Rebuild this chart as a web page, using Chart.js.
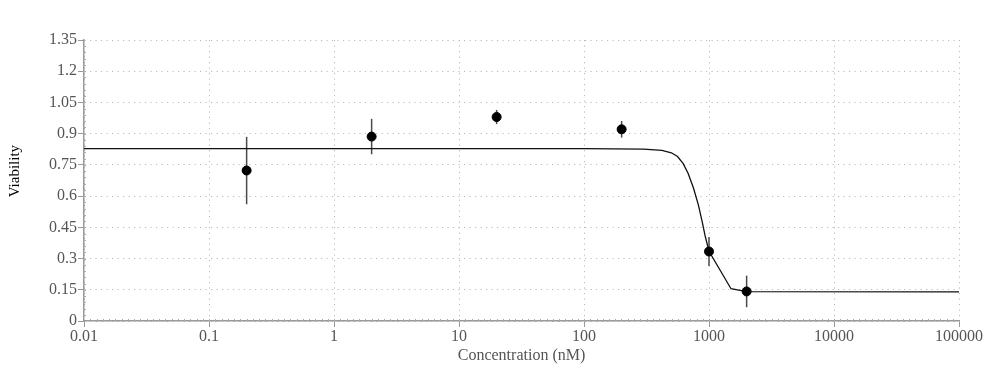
<!DOCTYPE html>
<html>
<head>
<meta charset="utf-8">
<script src="https://cdn.jsdelivr.net/npm/chart.js@4"></script>
<style>
  html, body { margin: 0; padding: 0; background: #fff; }
</style>
</head>
<body>
<canvas id="viability-chart" width="1004" height="370"></canvas>
<script>
// ------------- data -------------

var concentrations = [0.2, 2, 20, 200, 1000, 2000];
var viability = [0.723, 0.886, 0.980, 0.921, 0.334, 0.142];
var viabilityErr = [0.162, 0.085, 0.034, 0.040, 0.070, 0.076];

// fitted curve
var fitConc = [0.01, 1, 100, 300, 420, 500, 560, 620, 680, 750, 820, 880, 930, 1000, 1500, 2000, 100000];
var fitViability = [0.828, 0.828, 0.828, 0.826, 0.820, 0.808, 0.790, 0.757, 0.710, 0.640, 0.560, 0.480, 0.410, 0.335, 0.155, 0.141, 0.140];

var xTicks = [0.01, 0.1, 1, 10, 100, 1000, 10000, 100000];
var yTicks = [0, 0.15, 0.3, 0.45, 0.6, 0.75, 0.9, 1.05, 1.2, 1.35];

var serif = "'Liberation Serif', 'DejaVu Serif', serif";

// ------------- datasets -------------

var datasets = [];

datasets.push({
    type: "scatter",
    data: concentrations.map(function (c, i) { return { x: c, y: viability[i] }; }),
    backgroundColor: "#000",
    borderColor: "#000",
    pointRadius: 4.5,
    pointHoverRadius: 4.5,
    order: 0
});

datasets.push({
    type: "line",
    data: fitConc.map(function (c, i) { return { x: c, y: fitViability[i] }; }),
    borderColor: "#111",
    borderWidth: 1.3,
    pointRadius: 0,
    tension: 0,
    fill: false,
    order: 1
});

// error bars as two point lines
concentrations.forEach(function (c, i) {
    datasets.push({
        type: "line",
        data: [{ x: c, y: viability[i] - viabilityErr[i] }, { x: c, y: viability[i] + viabilityErr[i] }],
        borderColor: "#4a4a4a",
        borderWidth: 1.5,
        pointRadius: 0,
        fill: false,
        order: 2
    });
});

// small ruler marks along both axes
var minorTicks = {
    id: "minorTicks",
    beforeDatasetsDraw: function (chart) {
        var ctx = chart.ctx, xs = chart.scales.x, ys = chart.scales.y;
        ctx.save();
        ctx.strokeStyle = "#aaa";
        ctx.lineWidth = 1;
        ctx.beginPath();
        for (var k = 1; k < 140; k++) {
            var px = Math.round(xs.getPixelForValue(Math.pow(10, -2 + k * 0.05))) + 0.5;
            ctx.moveTo(px, ys.bottom - 2);
            ctx.lineTo(px, ys.bottom + 1);
        }
        for (var j = 1; j < 45; j++) {
            var py = Math.round(ys.getPixelForValue(j * 0.03)) + 0.5;
            ctx.moveTo(xs.left - 1, py);
            ctx.lineTo(xs.left + 2, py);
        }
        ctx.stroke();
        ctx.restore();
    }
};

var viabilityChart = new Chart("viability-chart", {
    data: { datasets: datasets },
    plugins: [minorTicks],
    options: {
        responsive: false,
        animation: false,
        events: [],
        layout: { padding: { top: 40, right: 45, left: 0, bottom: 0 } },
        plugins: { legend: { display: false }, tooltip: { enabled: false } },
        scales: {
            x: {
                type: "logarithmic",
                min: 0.01,
                max: 100000,
                afterBuildTicks: function (scale) {
                    scale.ticks = xTicks.map(function (v) { return { value: v }; });
                },
                afterFit: function (scale) { scale.height = 49; },
                ticks: {
                    autoSkip: false,
                    maxRotation: 0,
                    padding: 0,
                    color: "#555",
                    font: { family: serif, size: 16 },
                    callback: function (v) { return String(v); }
                },
                grid: { color: "#bbb", tickColor: "#999", tickLength: 6 },
                border: { color: "#999", width: 1.5, dash: [1.2, 4.3] },
                title: {
                    display: true,
                    text: "Concentration (nM)",
                    color: "#555",
                    font: { family: serif, size: 16 },
                    padding: { top: 0, bottom: 5 }
                }
            },
            y: {
                min: 0,
                max: 1.35,
                afterBuildTicks: function (scale) {
                    scale.ticks = yTicks.map(function (v) { return { value: v }; });
                },
                afterFit: function (scale) { scale.width = 84; },
                ticks: {
                    padding: 1,
                    color: "#555",
                    font: { family: serif, size: 16 },
                    callback: function (v) { return String(v); }
                },
                grid: { color: "#bbb", tickColor: "#999", tickLength: 6 },
                border: { color: "#999", width: 1.5, dash: [1.2, 4.3] },
                title: {
                    display: true,
                    text: "     Viability",
                    color: "#000",
                    font: { family: serif, size: 15 },
                    padding: { top: 6, bottom: 0 }
                }
            }
        }
    }
});
</script>
</body>
</html>
